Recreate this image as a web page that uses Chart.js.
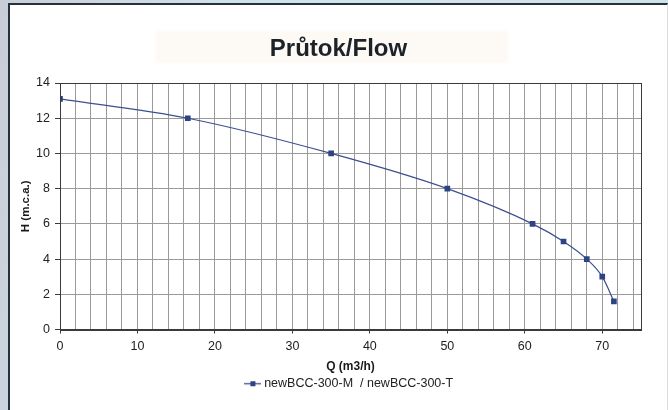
<!DOCTYPE html>
<html>
<head>
<meta charset="utf-8">
<script src="https://cdn.jsdelivr.net/npm/chart.js@4.4.1/dist/chart.umd.min.js"></script>
<style>
  html, body { margin: 0; padding: 0; }
  body {
    width: 668px; height: 410px; overflow: hidden; position: relative;
    background: linear-gradient(100deg, #c9cdd7 0%, #cfe1ec 30%, #d2e4ea 60%, #cde0e6 100%);
    font-family: "Liberation Sans", Arial, sans-serif;
  }
  #panel {
    position: absolute; left: 8px; top: 3px; width: 657px; height: 410px;
    background: #ffffff;
    border-left: 2px solid #27313a; border-top: 2px solid #27313a; border-right: 1px solid #dcdcdc;
  }
  #titlebg {
    position: absolute; left: 148px; top: 28px; width: 348px; height: 28px;
    background: #fdf9f4; box-shadow: 0 0 4px 2px #fdf9f4;
  }
  #wrap { position: absolute; left: 0; top: 0; width: 657px; height: 405px; }
</style>
</head>
<body>
<div id="panel">
  <div id="titlebg"></div>
  <div id="wrap"><canvas id="c" width="657" height="405"></canvas></div>
</div>
<script>
// ---- data ----
const flowQ = [0, 16.5, 35, 50, 61, 65, 68, 70, 71.5];        // Q (m3/h)
const headH = [13.1, 12, 10, 8, 6, 5, 4, 3, 1.6];              // H (m.c.a.)
const seriesLabel = 'newBCC-300-M  / newBCC-300-T';
const chartTitle = 'Průtok/Flow';
const xTitle = 'Q (m3/h)';
const yTitle = 'H (m.c.a.)';
const xGridValues = [];
for (let v = 0; v <= 74; v += 2) xGridValues.push(v);

const LINE = '#3d4f8f';
const MARK = '#2e4385';

// legend icon: short line with a square marker
const icon = document.createElement('canvas');
icon.width = 17; icon.height = 7;
{
  const g = icon.getContext('2d');
  g.strokeStyle = LINE; g.lineWidth = 1.3;
  g.beginPath(); g.moveTo(0, 3.5); g.lineTo(17, 3.5); g.stroke();
  g.fillStyle = MARK; g.fillRect(6, 1, 5, 5);
}

const frame = {
  id: 'frame',
  afterDraw(chart) {
    const {ctx, chartArea: a} = chart;
    ctx.save();
    ctx.strokeStyle = '#3a3a3a'; ctx.lineWidth = 1;
    ctx.strokeRect(Math.round(a.left) + 0.5, Math.round(a.top) + 0.5,
                   Math.round(a.right - a.left), Math.round(a.bottom - a.top));
    ctx.restore();
  }
};

new Chart(document.getElementById('c'), {
  type: 'line',
  data: {
    datasets: [{
      label: seriesLabel,
      data: flowQ.map((q, i) => ({x: q, y: headH[i]})),
      borderColor: LINE,
      borderWidth: 1.2,
      backgroundColor: MARK,
      pointStyle: 'rect',
      pointRadius: 4,
      pointBackgroundColor: MARK,
      pointBorderColor: MARK,
      pointBorderWidth: 0,
      cubicInterpolationMode: 'monotone',
      fill: false
    }]
  },
  options: {
    responsive: false,
    animation: false,
    layout: { padding: { left: 0, right: 0, top: 0, bottom: 10 } },
    plugins: {
      title: {
        display: true, text: chartTitle, color: '#1b2329',
        font: { family: '"Liberation Sans", Arial, sans-serif', size: 24, weight: 'bold' },
        padding: { top: 29.6, bottom: 19.6 }
      },
      legend: {
        display: true, position: 'bottom', fullSize: false,
        labels: {
          usePointStyle: true, pointStyle: icon, pointStyleWidth: 10,
          color: '#222', padding: 3,
          font: { family: '"Liberation Sans", Arial, sans-serif', size: 12.5 }
        }
      },
      tooltip: { enabled: false }
    },
    scales: {
      x: {
        type: 'linear', min: 0, max: 75,
        afterBuildTicks(axis) { axis.ticks = xGridValues.map(v => ({value: v})); },
        afterFit(axis) { axis.height = 45; },
        ticks: {
          autoSkip: false, maxRotation: 0, padding: 6, color: '#222',
          font: { family: '"Liberation Sans", Arial, sans-serif', size: 12.5 },
          callback: v => (v % 10 === 0 ? String(v) : '')
        },
        grid: {
          color: '#9a9a9a', lineWidth: 1, tickLength: 4,
          tickColor: c => (c.tick && c.tick.value % 10 === 0 ? '#3a3a3a' : 'rgba(0,0,0,0)')
        },
        border: { color: '#3a3a3a', width: 1 },
        title: {
          display: true, text: xTitle, color: '#1b1b1b',
          font: { family: '"Liberation Sans", Arial, sans-serif', size: 12, weight: 'bold' },
          padding: { top: 0, bottom: 1 }
        }
      },
      y: {
        min: 0, max: 14,
        afterFit(axis) { axis.width = 50; },
        ticks: {
          stepSize: 2, padding: 5, color: '#222',
          font: { family: '"Liberation Sans", Arial, sans-serif', size: 12.5 }
        },
        grid: { color: '#9a9a9a', lineWidth: 1, tickLength: 5, tickColor: '#3a3a3a' },
        border: { color: '#3a3a3a', width: 1 },
        title: {
          display: true, text: yTitle, color: '#1b1b1b',
          font: { family: '"Liberation Sans", Arial, sans-serif', size: 11.5, weight: 'bold' },
          padding: { top: 9, bottom: 0 }
        }
      },
      yRight: {
        position: 'right', min: 0, max: 14,
        afterFit(axis) { axis.width = 26; },
        ticks: { display: false },
        grid: { display: false, drawOnChartArea: false },
        border: { display: false }
      }
    }
  },
  plugins: [frame]
});
</script>
</body>
</html>
